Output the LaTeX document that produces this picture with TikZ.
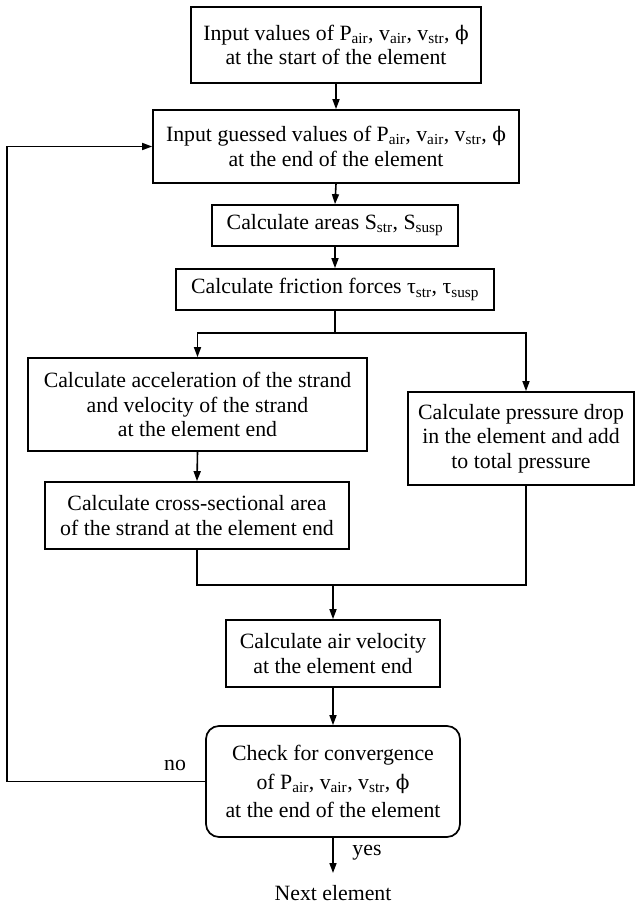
\documentclass[tikz,border=0pt]{standalone}
\usepackage{fontspec}
\setmainfont{Liberation Serif}
\newfontfamily\dvsf[Scale=0.92]{DejaVu Serif}
\usetikzlibrary{arrows.meta}
\newcommand{\sbs}[1]{\textsubscript{#1}}
\newcommand{\phs}{{\dvsf ϕ}}
\begin{document}
\begin{tikzpicture}[x=1pt,y=-1pt,
  box/.style={draw, line width=1.7pt, align=center, inner sep=0pt, font=\fontsize{21.8}{24.5}\selectfont},
  lbl/.style={inner sep=0pt, font=\fontsize{21.8}{24.5}\selectfont},
  arr/.style={line width=1.6pt, -{Triangle[length=10pt,width=7pt]}},
  ln/.style={line width=1.6pt}]
\useasboundingbox (0,0) rectangle (635,904);

\node[box, minimum width=290pt, minimum height=76pt] (b1) at (336,45)
  {Input values of P\sbs{air}, v\sbs{air}, v\sbs{str}, \phs\\at the start of the element};
\node[box, minimum width=366pt, minimum height=73pt] (b2) at (336,146.5)
  {Input guessed values of P\sbs{air}, v\sbs{air}, v\sbs{str}, \phs\\at the end of the element};
\node[box, minimum width=246pt, minimum height=41pt] (b3) at (335,225.5)
  {Calculate areas S\sbs{str}, S\sbs{susp}};
\node[box, minimum width=318pt, minimum height=41pt] (b4) at (335,289.5)
  {Calculate friction forces τ\sbs{str}, τ\sbs{susp}};
\node[box, minimum width=339pt, minimum height=93pt] (b5) at (197.5,404.5)
  {Calculate acceleration of the strand\\and velocity of the strand\\at the element end};
\node[box, minimum width=226pt, minimum height=93pt] (b7) at (521,438.5)
  {Calculate pressure drop\\in the element and add\\to total pressure};
\node[box, minimum width=304pt, minimum height=67pt] (b6) at (197,515.5)
  {Calculate cross-sectional area\\of the strand at the element end};
\node[box, minimum width=214pt, minimum height=67pt] (b8) at (333,653.5)
  {Calculate air velocity\\at the element end};
\node[box, rounded corners=13pt, minimum width=254pt, minimum height=111pt,
  font=\fontsize{21.8}{28.5}\selectfont] (b9) at (333,781.5)
  {Check for convergence\\of P\sbs{air}, v\sbs{air}, v\sbs{str}, \phs\\at the end of the element};

\node[lbl] (no) at (175,765) {no};
\node[lbl] (yes) at (367,853) {yes};
\node[lbl] (nx) at (333,893) {Next element};

\draw[arr] (b1.south) -- (b2.north);
\draw[arr] (b2.south) -- (b3.north);
\draw[arr] (b3.south) -- (b4.north);

\coordinate (j) at (335,333);
\draw[ln] (b4.south) -- (j);
\draw[arr] (j) -| (b5.north);
\draw[arr] (j) -| ([xshift=5pt]b7.north);
\draw[arr] (b5.south) -- (b6.north);

\coordinate (m) at (333,585);
\draw[ln] (b6.south) |- (m);
\draw[ln] ([xshift=5pt]b7.south) |- (m);
\draw[arr] (m) -- (b8.north);
\draw[arr] (b8.south) -- (b9.north);

\coordinate (fb) at (7,781.5);
\draw[arr] (b9.west) -- (fb) |- (b2.west);

\coordinate (ye) at (333,873);
\draw[arr] (b9.south) -- (ye);
\end{tikzpicture}
\end{document}
